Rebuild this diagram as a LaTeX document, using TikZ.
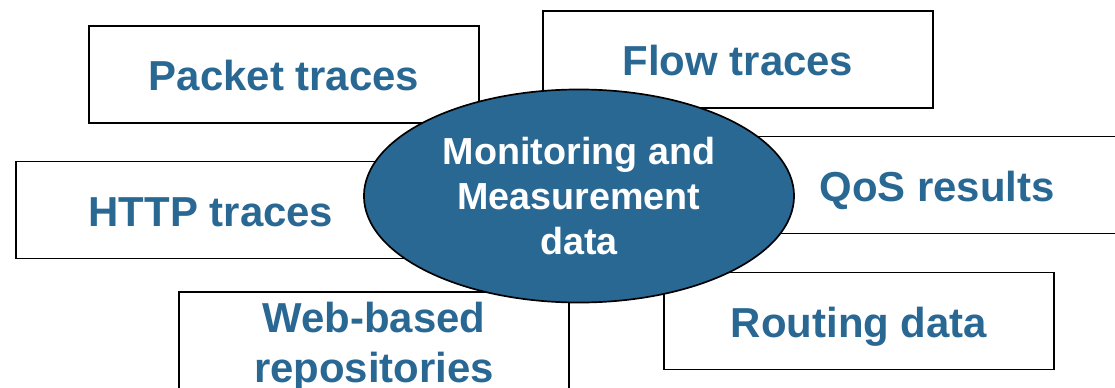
\documentclass[tikz,border=0pt]{standalone}
\usepackage{fontspec}
\setmainfont{Liberation Sans}
\usetikzlibrary{shapes.geometric}
\definecolor{mblue}{HTML}{2A6894}

\tikzset{
  srcbox/.style={draw=black, line width=1.2pt, fill=white, minimum width=9.75cm,
    minimum height=2.425cm, inner sep=0pt, align=center, text=mblue,
    text height=0.81cm, text depth=0pt,
    font=\fontsize{29.8}{34.9}\selectfont\bfseries},
  hub/.style={ellipse, draw=black, line width=1.2pt, fill=mblue, text=white,
    minimum width=10.75cm, minimum height=5.325cm, inner sep=0pt, align=center,
    font=\fontsize{26.8}{31.8}\selectfont\bfseries}
}

\begin{document}
\begin{tikzpicture}[x=0.025cm,y=-0.025cm]

  % Frame of the picture
  \useasboundingbox (0,0) rectangle (1115,387);
  \clip (0,0) rectangle (1115,387);

  % Data sources
  \node[srcbox] (pkt)   at (284,74.5) {Packet traces};
  \node[srcbox] (flow)  at (738,59.5) {Flow traces};
  \node[srcbox] (qos)   at (937,185)  {QoS results};
  \node[srcbox] (http)  at (211,210)  {HTTP traces};
  \node[srcbox, text height=2.075cm]
    (web) at (374,340.5) {Web-based\\repositories};
  \node[srcbox] (route) at (859,321)  {Routing data};

  % Central ellipse
  \node[hub] (mon) at (579,196) {Monitoring and\\Measurement\\data};

\end{tikzpicture}
\end{document}
